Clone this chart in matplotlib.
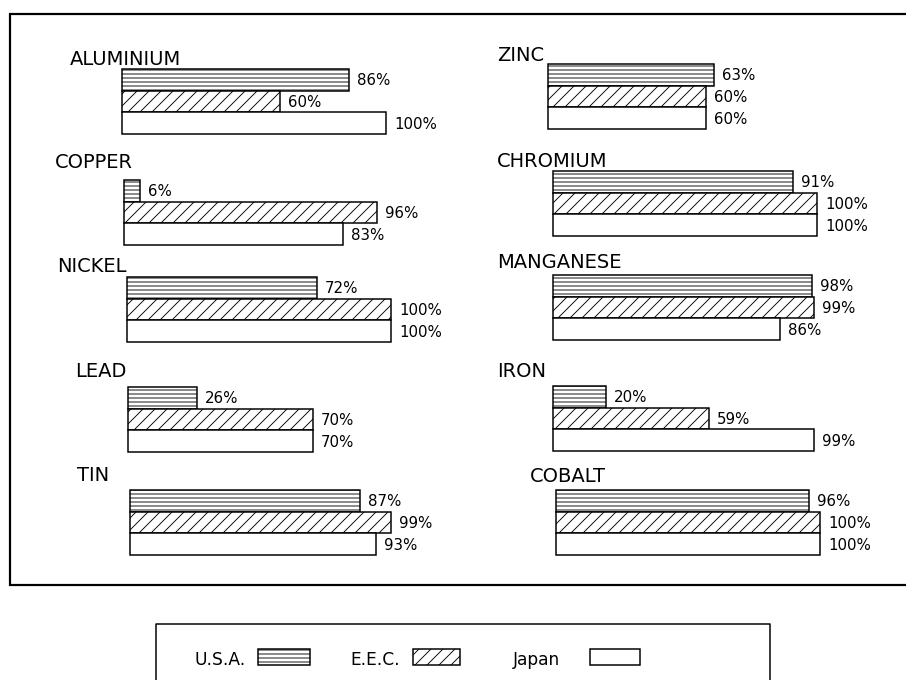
import matplotlib
matplotlib.use("Agg")
import matplotlib.pyplot as plt
from matplotlib.patches import Rectangle

# Share of each metal's supply that is imported
metals = ["ALUMINIUM", "COPPER", "NICKEL", "LEAD", "TIN",
          "ZINC", "CHROMIUM", "MANGANESE", "IRON", "COBALT"]
usa = [86, 6, 72, 26, 87, 63, 91, 98, 20, 96]
eec = [60, 96, 100, 70, 99, 60, 100, 99, 59, 100]
japan = [100, 83, 100, 70, 93, 60, 100, 86, 99, 100]
regions = ["U.S.A.", "E.E.C.", "Japan"]

# Layout (pixels): start of bars, top of the first bar, name label position
bar_x = [122, 124, 127, 128, 130, 548, 553, 553, 553, 556]
bar_top = [69, 180, 277, 387, 490, 64, 171, 275, 386, 490]
name_x = [70, 55, 57, 75, 77, 497, 497, 497, 497, 530]
name_y = [65, 168, 272, 377, 481, 61, 167, 268, 377, 482]

W, H, DPI = 906, 680, 72
PX_PER_PCT = 2.64
GROUP_H = 65
PANEL_W = 330
hatches = ["---", "//", None]
series = [usa, eec, japan]

plt.rcParams["hatch.linewidth"] = 0.9
plt.rcParams["font.family"] = ["DejaVu Sans"]

fig = plt.figure(figsize=(W / DPI, H / DPI), dpi=DPI)
fig.patch.set_facecolor("white")
bg = fig.add_axes([0, 0, 1, 1])
bg.set_xlim(0, W)
bg.set_ylim(H, 0)
bg.axis("off")

# outer frame
bg.plot([W + 5, 10, 10, W + 5], [14, 14, 585, 585], color="black", lw=2.2,
        solid_joinstyle="miter", clip_on=False)

for i, name in enumerate(metals):
    ax = fig.add_axes([bar_x[i] / W, 1 - (bar_top[i] + GROUP_H) / H,
                       PANEL_W / W, GROUP_H / H])
    ax.set_xlim(0, PANEL_W / PX_PER_PCT)
    ax.set_ylim(2.5, -0.5)
    ax.axis("off")
    for j, vals in enumerate(series):
        bars = ax.barh(j, vals[i], height=1.0, facecolor="white",
                       edgecolor="black", lw=1.5, hatch=hatches[j])
        for b in bars:
            b.set_clip_on(False)
        ax.annotate(f"{vals[i]}%", xy=(vals[i], j), xytext=(8, -1),
                    textcoords="offset points", va="center", ha="left",
                    fontsize=15, annotation_clip=False)
    bg.text(name_x[i], name_y[i], name, fontsize=19.5, va="baseline", ha="left")

# legend box
bg.plot([156, 156, 770, 770], [H + 10, 624, 624, H + 10], color="black",
        lw=1.5, clip_on=False)
leg_text_x = [195, 350, 513]
leg_patch_x = [258, 413, 590]
leg_patch_w = [52, 47, 50]
for k, lab in enumerate(regions):
    bg.text(leg_text_x[k], 665, lab, fontsize=17, va="baseline", ha="left")
    bg.add_patch(Rectangle((leg_patch_x[k], 649), leg_patch_w[k], 16,
                           facecolor="white", edgecolor="black", lw=1.5,
                           hatch=hatches[k]))

fig.savefig("out.png", dpi=DPI, facecolor="white")
